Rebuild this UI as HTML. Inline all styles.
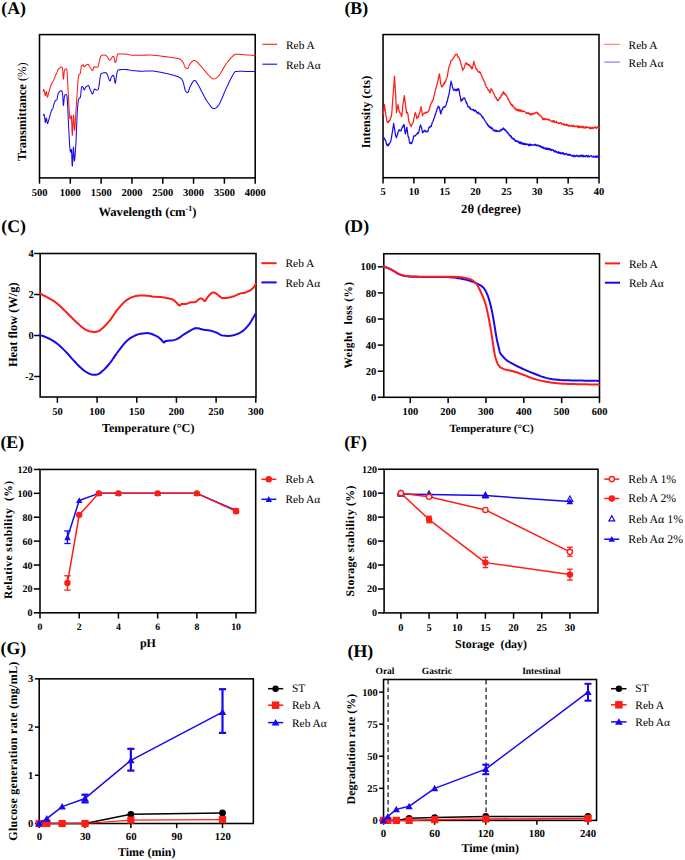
<!DOCTYPE html>
<html><head><meta charset="utf-8"><style>
html,body{margin:0;padding:0;background:#fff;}
body{width:685px;height:860px;overflow:hidden;}
svg{display:block;}
text{font-family:"Liberation Serif",serif;text-rendering:geometricPrecision;}
</style></head><body>
<svg width="685" height="860" viewBox="0 0 685 860">
<rect width="685" height="860" fill="#fff"/>
<text x="1.3" y="13.5" font-size="17.8" font-weight="bold" text-anchor="start" fill="#000" >(A)</text>
<text x="344.4" y="13.5" font-size="17.8" font-weight="bold" text-anchor="start" fill="#000" >(B)</text>
<text x="1.3" y="232.2" font-size="17.8" font-weight="bold" text-anchor="start" fill="#000" >(C)</text>
<text x="344.4" y="232" font-size="17.8" font-weight="bold" text-anchor="start" fill="#000" >(D)</text>
<text x="0.4" y="448.1" font-size="17.8" font-weight="bold" text-anchor="start" fill="#000" >(E)</text>
<text x="344.2" y="448" font-size="17.8" font-weight="bold" text-anchor="start" fill="#000" >(F)</text>
<text x="0.6" y="654.4" font-size="17.8" font-weight="bold" text-anchor="start" fill="#000" >(G)</text>
<text x="347.5" y="656.6" font-size="17.8" font-weight="bold" text-anchor="start" fill="#000" >(H)</text>
<rect x="39.5" y="34.6" width="215.7" height="143.3" fill="none" stroke="#000" stroke-width="1.55"/>
<line x1="39.5" y1="177.9" x2="39.5" y2="183.7" stroke="#000" stroke-width="1.5" />
<text x="39.5" y="196" font-size="10.5" font-weight="bold" text-anchor="middle" fill="#000" >500</text>
<line x1="70.31" y1="177.9" x2="70.31" y2="183.7" stroke="#000" stroke-width="1.5" />
<text x="70.31" y="196" font-size="10.5" font-weight="bold" text-anchor="middle" fill="#000" >1000</text>
<line x1="101.13" y1="177.9" x2="101.13" y2="183.7" stroke="#000" stroke-width="1.5" />
<text x="101.13" y="196" font-size="10.5" font-weight="bold" text-anchor="middle" fill="#000" >1500</text>
<line x1="131.94" y1="177.9" x2="131.94" y2="183.7" stroke="#000" stroke-width="1.5" />
<text x="131.94" y="196" font-size="10.5" font-weight="bold" text-anchor="middle" fill="#000" >2000</text>
<line x1="162.76" y1="177.9" x2="162.76" y2="183.7" stroke="#000" stroke-width="1.5" />
<text x="162.76" y="196" font-size="10.5" font-weight="bold" text-anchor="middle" fill="#000" >2500</text>
<line x1="193.57" y1="177.9" x2="193.57" y2="183.7" stroke="#000" stroke-width="1.5" />
<text x="193.57" y="196" font-size="10.5" font-weight="bold" text-anchor="middle" fill="#000" >3000</text>
<line x1="224.39" y1="177.9" x2="224.39" y2="183.7" stroke="#000" stroke-width="1.5" />
<text x="224.39" y="196" font-size="10.5" font-weight="bold" text-anchor="middle" fill="#000" >3500</text>
<line x1="255.2" y1="177.9" x2="255.2" y2="183.7" stroke="#000" stroke-width="1.5" />
<text x="255.2" y="196" font-size="10.5" font-weight="bold" text-anchor="middle" fill="#000" >4000</text>
<polyline points="43.2,91.3 43.28,90.96 43.4,90.44 43.53,89.89 43.67,89.46 43.8,89.3 43.92,89.46 44.03,89.82 44.14,90.34 44.26,90.96 44.4,91.6 44.56,92.44 44.73,93.5 44.91,94.56 45.1,95.38 45.3,95.7 45.51,95.25 45.73,94.18 45.96,92.94 46.18,91.93 46.4,91.6 46.61,92.24 46.81,93.56 47,95.13 47.2,96.49 47.4,97.2 47.59,97.16 47.78,96.65 47.96,95.85 48.17,94.92 48.4,94 48.67,93.05 48.98,91.94 49.3,90.79 49.62,89.68 49.9,88.7 50.14,87.88 50.35,87.14 50.55,86.47 50.76,85.83 51,85.2 51.28,84.57 51.59,83.97 51.9,83.39 52.21,82.83 52.5,82.3 52.75,81.84 52.97,81.44 53.19,81.05 53.43,80.59 53.7,80 54.02,79.23 54.38,78.32 54.76,77.34 55.14,76.38 55.5,75.5 55.86,74.7 56.23,73.93 56.59,73.2 56.92,72.52 57.2,71.9 57.38,71.36 57.47,70.9 57.55,70.48 57.7,70.06 58,69.6 58.52,69.03 59.2,68.36 59.94,67.72 60.64,67.23 61.2,67 61.59,66.97 61.88,67.08 62.1,67.39 62.3,68 62.5,69 62.7,70.81 62.88,73.38 63.05,76.06 63.22,78.21 63.4,79.2 63.59,78.62 63.77,76.9 63.96,74.65 64.17,72.45 64.4,70.9 64.67,70.04 64.98,69.47 65.3,69.14 65.62,69 65.9,69 66.14,68.93 66.36,68.82 66.57,68.99 66.78,69.78 67,71.5 67.23,74.41 67.47,78.28 67.71,82.76 67.95,87.45 68.2,92 68.46,96.75 68.73,101.94 69,107.06 69.26,111.58 69.5,115 69.7,117.11 69.88,118.25 70.05,118.72 70.22,118.84 70.4,118.9 70.6,118.45 70.8,117.28 71,116.08 71.2,115.53 71.4,116.3 71.58,119.38 71.76,124.32 71.93,129.63 72.11,133.85 72.3,135.5 72.51,133.37 72.72,128.44 72.94,122.52 73.17,117.44 73.4,115 73.63,116.34 73.87,120.24 74.11,125.01 74.35,128.96 74.6,130.4 74.85,128.77 75.11,125.21 75.38,120.54 75.64,115.59 75.9,111.2 76.16,107.3 76.42,103.34 76.68,99.41 76.94,95.6 77.2,92 77.45,88.49 77.69,85.01 77.94,81.74 78.2,78.88 78.5,76.6 78.86,75.14 79.27,74.36 79.69,73.94 80.08,73.53 80.4,72.8 80.63,71.61 80.8,70.19 80.93,68.74 81.06,67.44 81.2,66.5 81.36,66.01 81.51,65.84 81.66,65.84 81.82,65.88 82,65.8 82.2,65.55 82.42,65.23 82.65,64.92 82.88,64.72 83.1,64.7 83.32,64.99 83.53,65.52 83.74,66.13 83.96,66.64 84.2,66.9 84.44,66.83 84.68,66.55 84.94,66.15 85.24,65.73 85.6,65.4 86.07,65.11 86.63,64.79 87.21,64.5 87.76,64.32 88.2,64.3 88.51,64.48 88.73,64.83 88.9,65.27 89.08,65.75 89.3,66.2 89.57,66.62 89.86,67.06 90.16,67.51 90.47,67.96 90.8,68.4 91.15,68.92 91.52,69.52 91.89,70.08 92.26,70.45 92.6,70.5 92.9,70.08 93.16,69.28 93.42,68.33 93.69,67.46 94,66.9 94.34,66.74 94.71,66.83 95.09,67.03 95.49,67.23 95.9,67.3 96.34,67.28 96.81,67.25 97.28,67.16 97.73,66.93 98.1,66.5 98.39,65.82 98.6,64.92 98.79,63.9 98.98,62.83 99.2,61.8 99.45,60.75 99.72,59.62 100,58.5 100.29,57.5 100.6,56.7 100.92,56.15 101.23,55.77 101.57,55.52 101.96,55.35 102.4,55.2 102.94,55.08 103.57,55.02 104.23,55.02 104.86,55.08 105.4,55.2 105.83,55.38 106.19,55.61 106.51,55.9 106.83,56.26 107.2,56.7 107.63,57.31 108.09,58.09 108.56,58.89 109,59.57 109.4,60 109.72,60.14 109.98,60.08 110.22,59.87 110.48,59.56 110.8,59.2 111.21,58.69 111.68,58 112.16,57.27 112.62,56.66 113,56.3 113.29,56.2 113.52,56.26 113.71,56.48 113.9,56.86 114.1,57.4 114.32,58.28 114.54,59.5 114.76,60.79 114.98,61.88 115.2,62.5 115.42,62.58 115.64,62.32 115.86,61.79 116.08,61.09 116.3,60.3 116.52,59.28 116.74,57.98 116.96,56.6 117.18,55.37 117.4,54.5 117.52,54.07 117.54,53.93 117.61,53.97 117.88,54.07 118.5,54.1 119.58,54.06 121.03,54.02 122.66,54 124.31,54.02 125.8,54.1 127.06,54.27 128.21,54.51 129.34,54.79 130.57,55.03 132,55.2 133.64,55.27 135.41,55.28 137.31,55.25 139.32,55.22 141.4,55.2 143.56,55.17 145.81,55.11 148.16,55.07 150.62,55.08 153.2,55.2 156,55.44 159.01,55.79 162.08,56.19 165.07,56.61 167.8,57 170.34,57.34 172.8,57.66 175.08,57.99 177.11,58.36 178.8,58.8 180.07,59.3 180.98,59.83 181.65,60.42 182.21,61.11 182.8,61.9 183.38,62.92 183.86,64.15 184.3,65.42 184.73,66.56 185.2,67.4 185.73,67.96 186.29,68.34 186.85,68.54 187.39,68.53 187.9,68.3 188.34,67.76 188.72,66.91 189.1,65.9 189.51,64.88 190,64 190.59,63.2 191.26,62.39 191.96,61.65 192.69,61.06 193.4,60.7 194.05,60.54 194.65,60.52 195.28,60.7 196.04,61.14 197,61.9 198.26,63.14 199.78,64.81 201.39,66.69 202.95,68.53 204.3,70.1 205.41,71.39 206.38,72.56 207.26,73.62 208.11,74.59 209,75.5 209.9,76.42 210.77,77.33 211.64,78.12 212.55,78.68 213.5,78.9 214.49,78.8 215.5,78.47 216.56,77.85 217.68,76.91 218.9,75.6 220.24,73.73 221.68,71.32 223.19,68.68 224.71,66.07 226.2,63.8 227.72,61.8 229.29,59.89 230.84,58.14 232.27,56.65 233.5,55.5 234.4,54.78 235.04,54.43 235.6,54.32 236.26,54.32 237.2,54.3 238.46,54.29 239.91,54.37 241.51,54.5 243.22,54.66 245,54.8 247.05,54.94 249.4,55.1 251.74,55.26 253.77,55.4 255.2,55.5" fill="none" stroke="#ff1c14" stroke-width="1.05" stroke-linejoin="round" stroke-linecap="round" />
<polyline points="43.2,115.2 43.33,115.01 43.51,114.69 43.72,114.39 43.92,114.21 44.1,114.3 44.24,114.7 44.36,115.33 44.47,116.11 44.58,116.96 44.7,117.8 44.81,118.79 44.92,119.99 45.02,121.15 45.15,122.03 45.3,122.4 45.49,121.95 45.71,120.85 45.94,119.54 46.18,118.48 46.4,118.1 46.6,118.72 46.79,120.03 46.98,121.58 47.18,122.92 47.4,123.6 47.64,123.5 47.89,122.93 48.15,122.05 48.42,121.05 48.7,120.1 48.99,119.16 49.29,118.12 49.6,117.03 49.9,115.94 50.2,114.9 50.49,113.88 50.78,112.84 51.06,111.84 51.33,110.94 51.6,110.2 51.85,109.72 52.08,109.47 52.32,109.29 52.55,109.02 52.8,108.5 53.07,107.64 53.36,106.55 53.64,105.37 53.93,104.24 54.2,103.3 54.45,102.57 54.68,101.95 54.91,101.42 55.14,100.98 55.4,100.6 55.69,100.37 56.01,100.3 56.34,100.27 56.64,100.14 56.9,99.8 57.1,99.17 57.27,98.33 57.41,97.4 57.55,96.48 57.7,95.7 57.83,95.06 57.93,94.5 58.04,93.98 58.22,93.49 58.5,93 58.94,92.44 59.51,91.82 60.13,91.25 60.72,90.84 61.2,90.7 61.56,90.75 61.84,90.93 62.08,91.33 62.29,92.09 62.5,93.3 62.7,95.46 62.88,98.51 63.05,101.69 63.22,104.26 63.4,105.5 63.59,104.94 63.77,103.09 63.96,100.61 64.17,98.18 64.4,96.5 64.67,95.57 64.97,94.96 65.29,94.61 65.6,94.5 65.9,94.6 66.17,94.65 66.43,94.66 66.69,95.04 66.94,96.15 67.2,98.4 67.46,102.16 67.72,107.19 67.98,112.89 68.24,118.69 68.5,124 68.76,129.07 69.03,134.28 69.3,139.28 69.56,143.67 69.8,147.1 70.02,149.39 70.24,150.79 70.44,151.55 70.62,151.94 70.8,152.2 70.96,151.93 71.1,150.96 71.23,149.9 71.36,149.37 71.5,150 71.65,152.64 71.8,156.89 71.95,161.45 72.12,165.02 72.3,166.3 72.5,164.2 72.72,159.58 72.95,154.09 73.18,149.38 73.4,147.1 73.6,148.3 73.78,151.88 73.97,156.27 74.17,159.9 74.4,161.2 74.67,159.84 74.97,156.86 75.29,152.76 75.6,148.04 75.9,143.2 76.17,137.8 76.43,131.53 76.69,125.01 76.94,118.88 77.2,113.8 77.45,109.82 77.69,106.51 77.94,103.78 78.2,101.54 78.5,99.7 78.86,98.53 79.26,98.1 79.68,97.98 80.07,97.79 80.4,97.1 80.65,95.74 80.84,93.98 81,92.09 81.15,90.34 81.3,89 81.45,88.11 81.58,87.48 81.7,87.06 81.84,86.79 82,86.6 82.19,86.51 82.41,86.57 82.64,86.73 82.87,86.99 83.1,87.3 83.32,87.78 83.53,88.45 83.74,89.14 83.96,89.68 84.2,89.9 84.44,89.7 84.68,89.2 84.94,88.53 85.24,87.85 85.6,87.3 86.07,86.83 86.63,86.35 87.21,85.92 87.76,85.62 88.2,85.5 88.51,85.6 88.73,85.87 88.9,86.27 89.08,86.76 89.3,87.3 89.57,87.93 89.86,88.68 90.16,89.49 90.47,90.28 90.8,91 91.14,91.75 91.5,92.58 91.87,93.33 92.24,93.82 92.6,93.9 92.96,93.36 93.32,92.31 93.68,91.06 94.04,89.92 94.4,89.2 94.76,89.01 95.12,89.14 95.47,89.44 95.83,89.74 96.2,89.9 96.59,89.97 96.99,90.04 97.39,90.05 97.77,89.9 98.1,89.5 98.37,88.85 98.58,88.01 98.78,86.98 98.97,85.78 99.2,84.4 99.45,82.66 99.72,80.55 100,78.36 100.29,76.38 100.6,74.9 100.92,74.02 101.23,73.56 101.57,73.35 101.96,73.25 102.4,73.1 102.94,72.9 103.57,72.75 104.23,72.66 104.86,72.64 105.4,72.7 105.84,72.82 106.21,72.99 106.54,73.25 106.86,73.64 107.2,74.2 107.57,75.05 107.95,76.15 108.33,77.35 108.68,78.45 109,79.3 109.26,79.91 109.49,80.39 109.69,80.72 109.89,80.86 110.1,80.8 110.31,80.43 110.51,79.77 110.71,78.97 110.94,78.17 111.2,77.5 111.53,76.93 111.9,76.35 112.3,75.84 112.67,75.47 113,75.3 113.26,75.33 113.49,75.52 113.69,75.87 113.89,76.39 114.1,77.1 114.32,78.26 114.54,79.86 114.76,81.5 114.98,82.78 115.2,83.3 115.42,82.85 115.64,81.69 115.86,80.15 116.08,78.51 116.3,77.1 116.51,75.85 116.71,74.54 116.91,73.29 117.14,72.18 117.4,71.3 117.64,70.71 117.84,70.33 118.1,70.11 118.52,69.95 119.2,69.8 120.22,69.64 121.51,69.53 122.96,69.47 124.43,69.46 125.8,69.5 127.01,69.62 128.16,69.82 129.31,70.06 130.56,70.3 132,70.5 133.64,70.67 135.41,70.84 137.31,70.99 139.32,71.12 141.4,71.2 143.56,71.19 145.81,71.08 148.16,70.98 150.62,70.95 153.2,71.1 156,71.45 159.01,71.95 162.08,72.54 165.07,73.18 167.8,73.8 170.34,74.41 172.8,75.04 175.08,75.7 177.11,76.39 178.8,77.1 180.07,77.77 180.98,78.4 181.65,79.1 182.21,79.96 182.8,81.1 183.38,82.7 183.86,84.7 184.3,86.81 184.73,88.74 185.2,90.2 185.73,91.2 186.29,91.94 186.85,92.4 187.39,92.56 187.9,92.4 188.33,91.82 188.7,90.83 189.07,89.59 189.48,88.26 190,87 190.66,85.66 191.43,84.14 192.24,82.65 193.05,81.43 193.8,80.7 194.41,80.41 194.93,80.42 195.45,80.78 196.11,81.59 197,82.9 198.24,85 199.75,87.85 201.37,91.02 202.94,94.08 204.3,96.6 205.41,98.53 206.38,100.15 207.26,101.55 208.11,102.81 209,104 209.9,105.22 210.77,106.4 211.64,107.43 212.55,108.17 213.5,108.5 214.49,108.49 215.5,108.22 216.56,107.59 217.68,106.48 218.9,104.8 220.24,102.3 221.68,99.07 223.19,95.44 224.71,91.77 226.2,88.4 227.72,85.17 229.29,81.84 230.84,78.68 232.27,75.91 233.5,73.8 234.4,72.5 235.04,71.85 235.6,71.6 236.26,71.53 237.2,71.4 238.46,71.24 239.91,71.22 241.51,71.27 243.22,71.35 245,71.4 247.05,71.43 249.4,71.48 251.74,71.52 253.77,71.57 255.2,71.6" fill="none" stroke="#1808f2" stroke-width="1.05" stroke-linejoin="round" stroke-linecap="round" />
<line x1="262.4" y1="44.3" x2="277.2" y2="44.3" stroke="#ff1c14" stroke-width="1.1" />
<line x1="262.4" y1="64.2" x2="277.2" y2="64.2" stroke="#1808f2" stroke-width="1.1" />
<text x="286" y="48.6" font-size="11.4" font-weight="normal" text-anchor="start" fill="#000" >Reb A</text>
<text x="286" y="68.6" font-size="11.4" font-weight="normal" text-anchor="start" fill="#000" >Reb Aα</text>
<text x="25.6" y="161" font-size="12.4" font-weight="bold" transform="rotate(-90 25.6 161)">Transmittance <tspan font-weight="normal">(%)</tspan></text>
<text x="147.4" y="216.2" font-size="12.6" font-weight="bold" text-anchor="middle">Wavelength (cm<tspan font-size="8" dy="-5">-1</tspan><tspan dy="5">)</tspan></text>
<rect x="383.05" y="34.55" width="215.95" height="143.15" fill="none" stroke="#000" stroke-width="1.55"/>
<line x1="383.05" y1="177.7" x2="383.05" y2="183.5" stroke="#000" stroke-width="1.5" />
<text x="383.05" y="195" font-size="10.5" font-weight="bold" text-anchor="middle" fill="#000" >5</text>
<line x1="413.9" y1="177.7" x2="413.9" y2="183.5" stroke="#000" stroke-width="1.5" />
<text x="413.9" y="195" font-size="10.5" font-weight="bold" text-anchor="middle" fill="#000" >10</text>
<line x1="444.75" y1="177.7" x2="444.75" y2="183.5" stroke="#000" stroke-width="1.5" />
<text x="444.75" y="195" font-size="10.5" font-weight="bold" text-anchor="middle" fill="#000" >15</text>
<line x1="475.6" y1="177.7" x2="475.6" y2="183.5" stroke="#000" stroke-width="1.5" />
<text x="475.6" y="195" font-size="10.5" font-weight="bold" text-anchor="middle" fill="#000" >20</text>
<line x1="506.45" y1="177.7" x2="506.45" y2="183.5" stroke="#000" stroke-width="1.5" />
<text x="506.45" y="195" font-size="10.5" font-weight="bold" text-anchor="middle" fill="#000" >25</text>
<line x1="537.3" y1="177.7" x2="537.3" y2="183.5" stroke="#000" stroke-width="1.5" />
<text x="537.3" y="195" font-size="10.5" font-weight="bold" text-anchor="middle" fill="#000" >30</text>
<line x1="568.15" y1="177.7" x2="568.15" y2="183.5" stroke="#000" stroke-width="1.5" />
<text x="568.15" y="195" font-size="10.5" font-weight="bold" text-anchor="middle" fill="#000" >35</text>
<line x1="599" y1="177.7" x2="599" y2="183.5" stroke="#000" stroke-width="1.5" />
<text x="599" y="195" font-size="10.5" font-weight="bold" text-anchor="middle" fill="#000" >40</text>
<polyline points="383.2,114.78 383.63,111.27 384.07,108.97 384.5,104.73 384.87,108.23 385.23,110.59 385.6,112.7 386,115.91 386.4,117.47 386.8,120.58 387.2,122.33 387.6,121.96 388,122.16 388.4,122.49 388.8,120.82 389.2,120.6 389.6,120.93 390,120.39 390.4,118.6 390.8,117.15 391.2,117.08 391.6,114.28 392,110.47 392.4,104.17 392.8,98.63 393.2,93.31 393.63,87.86 394.07,82.97 394.5,76.03 394.87,82.55 395.23,88.45 395.6,93.77 396.05,103.84 396.5,112.71 396.88,110.51 397.25,108.57 397.62,107.22 398,104.57 398.43,106.77 398.87,109.65 399.3,111.82 399.73,112.07 400.17,113.5 400.6,113.86 400.97,114.11 401.33,115.77 401.7,116.75 402.13,113.11 402.57,108.58 403,103.52 403.47,102.06 403.93,97.81 404.4,95.65 404.83,100.03 405.27,102.71 405.7,107.08 406.1,109.07 406.5,113 406.87,112.91 407.23,112.3 407.6,112.58 408.03,114.76 408.47,118.65 408.9,121.67 409.3,122.46 409.7,123.05 410.1,124.56 410.5,125.57 410.9,125.54 411.3,126.7 411.7,124.53 412.1,124.6 412.5,123.41 412.9,122.95 413.3,121.56 413.7,119.51 414.1,117.89 414.5,116.6 414.9,113.64 415.3,112.63 415.7,113.5 416.1,114.81 416.5,116.11 416.9,118.78 417.3,117.23 417.7,117.05 418.1,116.9 418.5,117.37 418.86,114.57 419.21,113.87 419.57,112.67 419.93,111.9 420.29,110.42 420.64,109.13 421,106.7 421.4,108.95 421.8,110.85 422.2,113.79 422.6,115.92 423,114.07 423.4,113.72 423.8,113.42 424.2,113.02 424.6,113.34 425,113.39 425.4,112.67 425.8,112.07 426.2,112.69 426.6,112.46 427,112.42 427.4,112.72 427.8,111.84 428.2,111.13 428.6,110.91 429,110.62 429.4,107.9 429.8,107.82 430.2,106 430.6,104.57 431,103.9 431.4,102.64 431.8,102.12 432.2,101.05 432.6,101.48 433,99.91 433.4,98.3 433.8,96.94 434.2,95.24 434.6,93.95 435,91.81 435.4,90.1 435.8,88.77 436.2,87.08 436.6,85.95 437,83.75 437.4,83.67 437.8,81.61 438.2,78.97 438.6,77.35 439,75.73 439.4,73.96 439.83,76.45 440.27,80.69 440.7,83.89 441.07,84.54 441.43,86.17 441.8,87.05 442.2,86.28 442.6,85.92 443,84.98 443.4,85.19 443.8,83.46 444.2,82.67 444.6,83.81 445,82.52 445.4,81.3 445.8,81.48 446.2,78.95 446.6,78.25 447,77.46 447.4,75.65 447.82,73.33 448.25,70.52 448.68,68.69 449.1,66.3 449.5,66.19 449.9,64.56 450.3,63.8 450.7,61.79 451.1,60.4 451.5,60.26 451.9,60.17 452.3,59.53 452.7,59.05 453.1,58.67 453.5,58.13 453.9,56.81 454.26,56.89 454.62,56.17 454.99,55.14 455.35,54.7 455.71,54.72 456.07,54.24 456.44,54.58 456.8,54.62 457.18,54.41 457.56,55.99 457.94,56.78 458.32,57.42 458.7,57.06 459.1,57.86 459.5,58.94 459.9,59.95 460.3,61.03 460.7,62.86 461.1,64.42 461.5,65.91 461.9,66.86 462.3,68.78 462.7,70.64 463.1,68.55 463.5,68.79 463.9,68.44 464.3,67.41 464.7,66.35 465.1,64.86 465.5,63.32 465.9,63.42 466.3,62.87 466.7,63.97 467.1,64.55 467.5,63.78 467.9,64.06 468.3,65.3 468.7,65.3 469.1,64.71 469.5,65.03 469.9,65.47 470.3,67.23 470.7,67.45 471.1,66.66 471.5,68.29 471.9,68.96 472.3,68.78 472.7,66.63 473.1,65.39 473.5,63.04 473.9,61.23 474.3,64.15 474.7,64.77 475.1,65.75 475.5,67.68 475.86,67.48 476.21,68.97 476.57,69.59 476.93,69.18 477.29,69.95 477.64,70.73 478,71.33 478.4,72.09 478.8,71.63 479.2,72.05 479.6,71.67 480,73.2 480.4,72.34 480.8,73.46 481.2,74.62 481.6,76.13 482,76.19 482.4,78.02 482.8,78.2 483.16,79.15 483.51,80.02 483.87,80 484.22,81.65 484.58,82.07 484.93,82.64 485.29,84.96 485.64,84.72 486,86.15 486.36,87.19 486.73,87.47 487.09,87.63 487.45,88.56 487.82,89.21 488.18,90.2 488.55,89.56 488.91,90.96 489.27,90.98 489.64,91.62 490,93.09 490.37,91.08 490.73,89.64 491.1,88.47 491.48,89.52 491.86,89.45 492.23,90.54 492.61,91.12 492.99,91.91 493.37,93.01 493.74,93.36 494.12,94.28 494.5,94.96 494.86,96.41 495.22,96.6 495.58,97.54 495.94,98.28 496.3,97.67 496.66,98.83 497.02,100.14 497.38,100.57 497.74,99.93 498.1,100.52 498.5,100.4 498.9,99.03 499.3,98.63 499.7,97.63 500.1,98.01 500.5,97.51 500.86,97.1 501.23,95.15 501.59,95.55 501.95,94.84 502.31,93.29 502.67,94.01 503.04,93.55 503.4,91.6 503.77,93.33 504.14,92.75 504.51,93.32 504.89,94.64 505.26,94.77 505.63,93.98 506,94.88 506.35,95.73 506.7,96.11 507.05,96.55 507.4,97.47 507.75,98.9 508.1,98.34 508.45,100 508.8,100.49 509.15,100.43 509.5,101.7 509.85,102.66 510.2,102.9 510.55,102.54 510.9,104.63 511.25,104.72 511.6,105.49 511.95,104.37 512.3,105.1 512.65,105.13 513,106.9 513.35,106.34 513.7,106.43 514.05,107.31 514.4,108.54 514.75,108.72 515.1,108.07 515.45,108.22 515.8,109.95 516.15,109.68 516.5,110.26 516.85,109.22 517.21,109.22 517.56,110.42 517.91,110.01 518.27,109.43 518.62,111.05 518.97,110.56 519.33,110.92 519.68,109.69 520.03,111.14 520.39,109.78 520.74,111.27 521.09,110.6 521.45,110.45 521.8,110.9 522.17,111.75 522.54,110.75 522.91,110.69 523.29,111.59 523.66,111.26 524.03,111.21 524.4,111.49 524.77,111.48 525.14,111.93 525.51,112.32 525.89,112.49 526.26,113.5 526.63,112.84 527,113.4 527.36,112.9 527.73,113.29 528.09,112.78 528.45,113.28 528.82,112.94 529.18,114.31 529.55,114.06 529.91,113.5 530.27,114.09 530.64,115 531,113.59 531.37,114.74 531.74,113.92 532.11,113.9 532.48,114.38 532.85,113.45 533.22,113.53 533.58,113.72 533.95,114.12 534.32,112.84 534.69,113.59 535.06,113.23 535.43,112.98 535.8,112.43 536.16,112.51 536.51,112.18 536.87,112.5 537.22,112.58 537.58,113.98 537.93,113.29 538.29,113.32 538.64,113.36 539,114.91 539.38,115.41 539.76,115.49 540.14,115.23 540.52,115.6 540.9,116.13 541.28,116.87 541.66,116.76 542.04,117.72 542.42,117.83 542.8,119.53 543.15,119.64 543.5,118.95 543.85,118.5 544.2,119.88 544.55,118.78 544.9,118.95 545.25,118.4 545.6,119.17 545.95,119.42 546.3,119.55 546.65,119.1 547,119.73 547.35,118.91 547.7,119.47 548.05,119.24 548.4,119.88 548.75,119.32 549.1,119.37 549.45,119.96 549.8,119.92 550.15,120.64 550.5,120.63 550.85,121.12 551.2,121.04 551.55,121.24 551.9,121.62 552.25,120.83 552.6,120.81 552.95,122.08 553.3,120.67 553.65,121.79 554,121.74 554.35,120.75 554.7,122.26 555.05,122.46 555.4,122.07 555.75,122.35 556.1,122.58 556.45,121.46 556.8,122.24 557.15,122.32 557.5,123.03 557.85,123.09 558.2,123.25 558.55,122.93 558.9,123.6 559.25,123.33 559.6,123.47 559.95,122.75 560.3,122.51 560.65,122.8 561,123.33 561.35,122.98 561.7,124.41 562.05,124.03 562.4,124.27 562.75,124.38 563.1,124.6 563.45,124.37 563.8,123.61 564.15,125.1 564.5,125.08 564.86,124.71 565.21,124.84 565.56,125.13 565.91,124.13 566.26,125.4 566.62,124.6 566.97,124.35 567.32,124.76 567.67,125.66 568.02,124.79 568.38,125.82 568.73,126.31 569.08,125.51 569.43,125.38 569.78,125.62 570.14,126.05 570.49,126.27 570.84,126.07 571.19,126.18 571.54,125.24 571.9,125.43 572.25,125.69 572.6,126.64 572.95,125.88 573.3,126.38 573.66,125.41 574.01,125.52 574.36,125.92 574.71,126.68 575.06,126.74 575.42,126.74 575.77,126.08 576.12,126.51 576.47,126.44 576.82,126.48 577.18,125.88 577.53,127.3 577.88,126.08 578.23,127.51 578.58,127.46 578.94,125.84 579.29,126.66 579.64,127.34 579.99,127.63 580.34,126.73 580.7,126.43 581.05,126.35 581.4,127.7 581.76,126.43 582.12,127.14 582.49,126.39 582.85,127.13 583.21,127.94 583.58,126.51 583.94,127.8 584.3,127.28 584.66,128.01 585.02,127.72 585.39,126.92 585.75,128.17 586.11,127.47 586.48,126.69 586.84,126.69 587.2,127.62 587.56,127.59 587.92,127.37 588.29,127.12 588.65,127.54 589.01,127.53 589.38,128.52 589.74,127.06 590.1,128.45 590.45,128.59 590.8,127.27 591.16,128.7 591.51,128.29 591.86,128.6 592.21,127.48 592.56,127.6 592.92,127.62 593.27,128.68 593.62,127.92 593.97,127.49 594.32,127.58 594.68,127.28 595.03,126.85 595.38,126.92 595.73,128.22 596.08,127.21 596.44,128.35 596.79,127.09 597.14,127.1 597.49,127.52 597.84,126.91 598.2,127.22 598.55,128.25 598.9,127.4" fill="none" stroke="#ff1c14" stroke-width="1.25" stroke-linejoin="round" stroke-linecap="round" />
<polyline points="383.2,136.69 383.56,137.2 383.92,137.52 384.28,138.66 384.64,139.35 385,139.29 385.37,140.66 385.73,140.52 386.1,142.82 386.47,143.38 386.83,144.99 387.2,145.86 387.6,144.95 388,144.25 388.4,145.57 388.8,143.86 389.2,144.22 389.6,143.72 390,142.44 390.4,142.03 390.8,141.26 391.2,138.77 391.56,137.31 391.91,134.5 392.27,132.79 392.63,130.32 392.99,127.74 393.34,125.56 393.7,123.47 394.07,126.98 394.45,128.49 394.82,130.25 395.2,133.73 395.6,135.69 396,136.51 396.4,137.75 396.8,136.5 397.2,134.96 397.6,134.07 398,132.26 398.43,131.4 398.87,130.3 399.3,129.73 399.7,130.65 400.1,130.75 400.5,130.49 400.9,130.84 401.3,130.09 401.7,128.88 402.1,127.86 402.5,126.41 402.9,126.17 403.3,126.79 403.7,124.65 404.1,124.71 404.53,128.17 404.97,131.82 405.4,133.89 405.77,132.19 406.15,130.35 406.52,128.82 406.9,127.1 407.3,130.95 407.7,133.69 408.1,136.67 408.5,136.74 408.9,138.36 409.3,141.18 409.7,143.11 410.1,142.75 410.5,143.36 410.9,142.7 411.3,143.8 411.7,143.57 412.1,142.19 412.5,141.04 412.9,140.05 413.3,137.55 413.7,136.1 414.1,135.78 414.5,136.04 414.9,135.93 415.3,135.99 415.7,135.2 416.1,134.67 416.5,134.61 416.9,133.79 417.3,133.69 417.7,132.5 418.1,133.57 418.5,132.32 418.85,132.21 419.2,130.36 419.55,128.4 419.9,126.73 420.25,125.6 420.6,124.95 421,126.68 421.4,127.24 421.8,128.79 422.2,131.22 422.6,132.95 423,132.2 423.4,131.5 423.8,131.78 424.2,130.32 424.6,130.44 425,130.33 425.4,131.49 425.8,131.19 426.2,131.89 426.6,131.42 427,131.26 427.4,131.54 427.8,131.83 428.2,130.37 428.6,128.65 429,127.14 429.4,127.6 429.8,127.51 430.2,126.66 430.6,125.96 431,126.3 431.4,126.37 431.8,124.02 432.2,122.59 432.6,122.06 433,121.12 433.4,120.51 433.8,118.56 434.2,118.43 434.6,117.13 435,115.51 435.4,113.77 435.8,113.95 436.2,111.56 436.6,111.41 437,109.28 437.4,108.2 437.8,108.1 438.2,106.2 438.6,106.31 439.02,107.09 439.44,108.14 439.86,109.8 440.28,111.75 440.7,113.8 441.08,113.35 441.46,110.94 441.84,110.43 442.22,109.14 442.6,109.55 443,107.66 443.4,107.09 443.8,106.71 444.2,106.91 444.6,107.42 445,106.99 445.4,105.92 445.8,105.6 446.2,104.68 446.6,102.79 446.96,101.26 447.31,101.34 447.67,99.73 448.03,97.17 448.39,97.04 448.74,95.25 449.1,93.97 449.5,91.34 449.9,88.48 450.3,85.63 450.7,83.56 451.1,81.13 451.5,83.82 451.9,83.92 452.3,87.04 452.7,87.27 453.1,89.14 453.5,90.11 453.9,90.25 454.3,89.68 454.7,89.12 455.1,90.02 455.5,89.97 455.86,90.87 456.21,89.47 456.57,89.69 456.92,90.56 457.28,88.91 457.63,89.51 457.99,90.14 458.34,89.97 458.7,88.57 459.1,90.45 459.5,92.38 459.9,95.81 460.3,96.5 460.7,99.26 461.1,101.42 461.5,100.01 461.9,99.49 462.3,100.32 462.7,99.31 463.1,98.27 463.5,98.69 463.9,98.14 464.3,98.25 464.7,97.93 465.1,99.46 465.5,100.83 465.9,101.41 466.3,103.05 466.7,102.48 467.1,103.94 467.5,105.46 467.86,106.68 468.21,107.03 468.57,106.36 468.92,106.47 469.28,107.15 469.63,107.62 469.99,108.76 470.34,107.77 470.7,109.24 471.06,109.31 471.41,109.64 471.77,109.72 472.12,109.6 472.48,109.28 472.83,109.44 473.19,109.7 473.54,110.63 473.9,109.54 474.27,109.97 474.65,111.19 475.02,110.5 475.39,110.39 475.76,110.55 476.14,111.7 476.51,111.51 476.88,112.91 477.25,112.95 477.63,113.36 478,112.28 478.36,112.22 478.71,112.51 479.07,113.5 479.42,114.14 479.78,113.94 480.13,113.82 480.49,114.42 480.84,115.05 481.2,115.41 481.56,116.04 481.91,116.7 482.27,116.86 482.62,116.37 482.98,118.16 483.33,117.66 483.69,118.64 484.04,118.78 484.4,119.93 485,120.76 485.35,121.29 485.7,121.72 486.05,122 486.4,123.75 486.75,123.64 487.1,123.63 487.45,124.19 487.8,125.71 488.15,125.27 488.5,125.22 488.85,126.55 489.21,126.56 489.56,127.46 489.91,126.16 490.27,127.12 490.62,128.03 490.97,128.37 491.33,128.79 491.68,127.51 492.03,128.26 492.39,128.24 492.74,128.66 493.09,130.36 493.45,129.96 493.8,130.87 494.17,129.99 494.54,131 494.91,130.37 495.29,130.15 495.66,131.21 496.03,131.63 496.4,130.24 496.77,131.24 497.14,131.41 497.51,130.81 497.89,131.2 498.26,130.91 498.63,131.15 499,131.36 499.37,131.72 499.73,131.56 500.1,130.49 500.47,129.89 500.83,130.2 501.2,130.57 501.57,129.42 501.93,129.4 502.3,128.94 502.67,129.75 503.03,129.04 503.4,127.91 503.75,128.29 504.1,129.13 504.45,129.72 504.8,130.19 505.15,129.51 505.5,129.95 505.85,131.22 506.2,131.02 506.55,131.1 506.9,131.45 507.27,133.06 507.63,132.35 508,133.24 508.37,133.31 508.73,133.86 509.1,135.11 509.47,135.79 509.83,135.09 510.2,135.23 510.57,136.63 510.93,136.12 511.3,136.21 511.67,138.14 512.03,137.6 512.4,138.63 512.77,138.2 513.13,139.37 513.5,138.93 513.87,138.71 514.23,138.76 514.6,140.04 514.97,140.52 515.33,141.32 515.7,140.16 516.06,141.26 516.42,140.94 516.78,141.31 517.14,140.8 517.49,141.19 517.85,141.75 518.21,142.61 518.57,141.28 518.93,142.1 519.29,142.8 519.65,143.23 520.01,141.98 520.36,141.99 520.72,143.59 521.08,143.79 521.44,143.03 521.8,142.4 522.15,144.06 522.5,143.18 522.85,144.2 523.2,143.78 523.55,144.23 523.9,143.13 524.25,144.34 524.6,143.42 524.95,143.84 525.3,144.72 525.65,144.78 526,143.71 526.35,143.86 526.7,144.28 527.05,144.58 527.4,144.43 527.75,144.05 528.1,144.36 528.45,145.31 528.8,145.72 529.15,144.17 529.5,145.11 529.85,145.46 530.2,144.17 530.55,145.61 530.9,144.31 531.25,145.18 531.6,145.09 531.95,145.23 532.3,144.65 532.65,144.86 533,145.15 533.35,144.87 533.7,145.29 534.05,144.9 534.4,144.89 534.75,144.14 535.1,145.21 535.45,144.98 535.8,144.52 536.15,145.6 536.5,145.76 536.85,145.31 537.2,144.94 537.55,145.6 537.9,145.07 538.25,145.24 538.6,145.92 538.95,145.44 539.3,146.2 539.65,146.45 540,145.73 540.35,146.94 540.7,146.07 541.05,147.37 541.4,147.58 541.75,147.23 542.1,146.54 542.45,147.48 542.8,147.38 543.15,148.5 543.5,147.12 543.85,148.5 544.2,148.83 544.55,148.44 544.9,148.68 545.25,147.64 545.6,149.15 545.95,148.35 546.3,149.27 546.65,149.28 547,148.02 547.35,149.22 547.7,149.57 548.05,148.09 548.4,148.69 548.75,149.51 549.1,148.52 549.45,149.93 549.8,148.89 550.15,150 550.5,148.93 550.85,149.71 551.2,150.6 551.55,149.45 551.9,149.68 552.25,150.26 552.6,150.05 552.95,149.68 553.3,150.08 553.65,150.18 554,151.71 554.35,151.38 554.7,151.9 555.05,150.73 555.4,151.97 555.75,150.9 556.1,151.79 556.45,152.11 556.8,151.75 557.15,152.76 557.5,152.27 557.85,152.4 558.2,153.03 558.55,151.71 558.9,153.4 559.25,152.83 559.6,152.49 559.95,153.3 560.3,152.43 560.65,153.82 561,153.16 561.35,152.85 561.7,153.67 562.05,153.17 562.4,152.78 562.75,153.88 563.1,152.72 563.45,154.19 563.8,153.26 564.15,154.04 564.5,154.76 564.86,154.13 565.21,154.36 565.56,153.82 565.91,153.36 566.26,153.5 566.62,153.8 566.97,154.74 567.32,154.5 567.67,154.73 568.02,155.52 568.38,154.23 568.73,154.5 569.08,155.36 569.43,154.31 569.78,154.37 570.14,155.09 570.49,154.74 570.84,155.28 571.19,155.14 571.54,155.87 571.9,155.98 572.25,155.38 572.6,156.22 572.95,155.95 573.3,155.34 573.66,156.79 574.01,155.54 574.36,155.37 574.71,155.27 575.06,156.25 575.42,156.67 575.77,156.51 576.12,155.82 576.47,155.58 576.82,155.12 577.18,156.26 577.53,156.11 577.88,155.73 578.23,156.26 578.58,155.9 578.94,156.79 579.29,156.42 579.64,155.55 579.99,156.73 580.34,155.18 580.7,156.06 581.05,155.83 581.4,155.53 581.76,155.22 582.12,156.54 582.49,155.17 582.85,156.16 583.21,156.88 583.58,155.46 583.94,155.58 584.3,156.33 584.66,156.16 585.02,156.42 585.39,156.75 585.75,155.61 586.11,155.87 586.48,155.87 586.84,155.44 587.2,156.97 587.56,156.79 587.92,156.69 588.29,155.43 588.65,156.95 589.01,156.79 589.38,156.3 589.74,156.82 590.1,156.31 590.45,155.92 590.8,155.71 591.16,155.95 591.51,155.62 591.86,156.16 592.21,156.92 592.56,156.84 592.92,157.12 593.27,156.89 593.62,156.1 593.97,156.63 594.32,156.43 594.68,157.08 595.03,156.61 595.38,156.16 595.73,156.85 596.08,157.44 596.44,156.11 596.79,157.31 597.14,155.77 597.49,156.22 597.84,156.19 598.2,157.11 598.55,157.49 598.9,156.7" fill="none" stroke="#1808f2" stroke-width="1.25" stroke-linejoin="round" stroke-linecap="round" />
<line x1="604.3" y1="44.3" x2="619.9" y2="44.3" stroke="#ff6666" stroke-width="1.0" />
<line x1="604.3" y1="62.1" x2="619.9" y2="62.1" stroke="#6666ff" stroke-width="1.0" />
<text x="628.6" y="48.7" font-size="11.4" font-weight="normal" text-anchor="start" fill="#000" >Reb A</text>
<text x="628.6" y="66.6" font-size="11.4" font-weight="normal" text-anchor="start" fill="#000" >Reb Aα</text>
<text x="369.9" y="112" font-size="12.3" font-weight="bold" text-anchor="middle" textLength="72.5" lengthAdjust="spacing" transform="rotate(-90 369.9 112)">Intensity (cts)</text>
<text x="491" y="213.3" font-size="12.6" font-weight="bold" text-anchor="middle" fill="#000" >2θ (degree)</text>
<rect x="40.15" y="253.5" width="215.85" height="143.5" fill="none" stroke="#000" stroke-width="1.55"/>
<line x1="34.15" y1="253.5" x2="40.15" y2="253.5" stroke="#000" stroke-width="1.5" />
<text x="33.75" y="257.1" font-size="10.5" font-weight="bold" text-anchor="end" fill="#000" >4</text>
<line x1="34.15" y1="294.5" x2="40.15" y2="294.5" stroke="#000" stroke-width="1.5" />
<text x="33.75" y="298.1" font-size="10.5" font-weight="bold" text-anchor="end" fill="#000" >2</text>
<line x1="34.15" y1="335.5" x2="40.15" y2="335.5" stroke="#000" stroke-width="1.5" />
<text x="33.75" y="339.1" font-size="10.5" font-weight="bold" text-anchor="end" fill="#000" >0</text>
<line x1="34.15" y1="376.5" x2="40.15" y2="376.5" stroke="#000" stroke-width="1.5" />
<text x="33.75" y="380.1" font-size="10.5" font-weight="bold" text-anchor="end" fill="#000" >-2</text>
<line x1="57.4" y1="397" x2="57.4" y2="402.8" stroke="#000" stroke-width="1.5" />
<text x="57.4" y="414.5" font-size="10.5" font-weight="bold" text-anchor="middle" fill="#000" >50</text>
<line x1="97.08" y1="397" x2="97.08" y2="402.8" stroke="#000" stroke-width="1.5" />
<text x="97.08" y="414.5" font-size="10.5" font-weight="bold" text-anchor="middle" fill="#000" >100</text>
<line x1="136.76" y1="397" x2="136.76" y2="402.8" stroke="#000" stroke-width="1.5" />
<text x="136.76" y="414.5" font-size="10.5" font-weight="bold" text-anchor="middle" fill="#000" >150</text>
<line x1="176.44" y1="397" x2="176.44" y2="402.8" stroke="#000" stroke-width="1.5" />
<text x="176.44" y="414.5" font-size="10.5" font-weight="bold" text-anchor="middle" fill="#000" >200</text>
<line x1="216.12" y1="397" x2="216.12" y2="402.8" stroke="#000" stroke-width="1.5" />
<text x="216.12" y="414.5" font-size="10.5" font-weight="bold" text-anchor="middle" fill="#000" >250</text>
<line x1="255.8" y1="397" x2="255.8" y2="402.8" stroke="#000" stroke-width="1.5" />
<text x="255.8" y="414.5" font-size="10.5" font-weight="bold" text-anchor="middle" fill="#000" >300</text>
<polyline points="40.1,293.6 40.82,293.97 41.79,294.47 42.94,295.07 44.23,295.74 45.57,296.46 46.9,297.2 48.26,297.95 49.71,298.74 51.22,299.57 52.76,300.46 54.29,301.43 55.8,302.5 57.28,303.68 58.77,304.96 60.25,306.33 61.73,307.74 63.22,309.17 64.7,310.6 66.18,312.05 67.67,313.54 69.15,315.06 70.63,316.57 72.12,318.06 73.6,319.5 75.12,320.94 76.69,322.41 78.26,323.85 79.79,325.21 81.21,326.45 82.5,327.5 83.64,328.35 84.66,329.04 85.59,329.6 86.45,330.06 87.24,330.45 88,330.8 88.69,331.08 89.28,331.27 89.82,331.39 90.33,331.46 90.85,331.52 91.4,331.6 91.97,331.7 92.52,331.81 93.08,331.91 93.67,331.97 94.3,331.98 95,331.9 95.74,331.8 96.51,331.72 97.32,331.57 98.2,331.3 99.19,330.84 100.3,330.1 101.57,329.07 103,327.79 104.52,326.31 106.1,324.69 107.67,322.97 109.2,321.2 110.68,319.3 112.17,317.2 113.65,315 115.13,312.8 116.62,310.7 118.1,308.8 119.58,307.06 121.06,305.39 122.54,303.82 124.03,302.37 125.51,301.05 127,299.9 128.5,298.92 130,298.1 131.5,297.42 133,296.86 134.5,296.39 136,296 137.49,295.71 138.97,295.55 140.46,295.49 141.94,295.49 143.42,295.54 144.9,295.6 146.41,295.7 147.95,295.88 149.49,296.1 151,296.33 152.44,296.54 153.8,296.7 155,296.79 156.06,296.83 157.06,296.86 158.07,296.89 159.19,296.96 160.5,297.1 162.09,297.31 163.91,297.57 165.84,297.86 167.74,298.19 169.47,298.54 170.9,298.9 171.99,299.27 172.83,299.66 173.5,300.06 174.09,300.5 174.66,300.98 175.3,301.5 176.01,302.15 176.73,302.93 177.44,303.75 178.12,304.51 178.75,305.13 179.3,305.5 179.72,305.57 180.03,305.39 180.28,305.07 180.54,304.69 180.89,304.33 181.4,304.1 182.11,304 182.97,303.96 183.91,303.95 184.88,303.94 185.8,303.9 186.6,303.8 187.26,303.62 187.83,303.38 188.34,303.11 188.86,302.83 189.43,302.59 190.1,302.4 190.9,302.3 191.8,302.28 192.75,302.29 193.7,302.27 194.6,302.19 195.4,302 196.1,301.65 196.73,301.17 197.32,300.62 197.87,300.07 198.39,299.57 198.9,299.2 199.39,298.94 199.86,298.73 200.29,298.58 200.71,298.49 201.11,298.47 201.5,298.5 201.87,298.63 202.23,298.86 202.57,299.14 202.89,299.46 203.2,299.75 203.5,300 203.77,300.25 204,300.55 204.21,300.84 204.44,301.05 204.69,301.12 205,301 205.35,300.64 205.72,300.08 206.12,299.38 206.56,298.61 207.05,297.83 207.6,297.1 208.24,296.35 208.97,295.53 209.75,294.69 210.54,293.91 211.3,293.26 212,292.8 212.62,292.56 213.2,292.47 213.76,292.52 214.3,292.66 214.84,292.86 215.4,293.1 215.98,293.4 216.56,293.81 217.14,294.28 217.73,294.77 218.32,295.26 218.9,295.7 219.45,296.13 219.97,296.59 220.49,297.04 221.04,297.44 221.67,297.78 222.4,298 223.28,298.1 224.27,298.1 225.34,298.03 226.43,297.91 227.5,297.76 228.5,297.6 229.42,297.44 230.3,297.25 231.15,297.04 232,296.79 232.88,296.51 233.8,296.2 234.78,295.82 235.81,295.36 236.86,294.88 237.9,294.39 238.93,293.95 239.9,293.6 240.82,293.36 241.7,293.2 242.56,293.09 243.4,292.99 244.24,292.83 245.1,292.6 245.99,292.27 246.91,291.88 247.82,291.45 248.71,291 249.55,290.54 250.3,290.1 250.96,289.68 251.56,289.27 252.09,288.86 252.59,288.44 253.05,287.99 253.5,287.5 253.94,286.93 254.36,286.27 254.75,285.59 255.1,284.94 255.38,284.39 255.6,284" fill="none" stroke="#ff1c14" stroke-width="2.0" stroke-linejoin="round" stroke-linecap="round" />
<polyline points="40.1,335.1 40.82,335.34 41.79,335.66 42.94,336.04 44.23,336.49 45.57,337.01 46.9,337.6 48.26,338.25 49.71,338.97 51.22,339.76 52.76,340.62 54.29,341.56 55.8,342.6 57.28,343.74 58.77,344.98 60.25,346.3 61.73,347.69 63.22,349.13 64.7,350.6 66.18,352.14 67.67,353.77 69.15,355.44 70.63,357.13 72.12,358.8 73.6,360.4 75.1,361.99 76.63,363.6 78.16,365.18 79.67,366.69 81.12,368.08 82.5,369.3 83.81,370.35 85.06,371.26 86.27,372.05 87.43,372.73 88.54,373.31 89.6,373.8 90.6,374.19 91.53,374.47 92.41,374.64 93.27,374.73 94.13,374.75 95,374.7 95.85,374.64 96.64,374.56 97.43,374.41 98.27,374.13 99.21,373.64 100.3,372.9 101.57,371.87 103,370.59 104.52,369.12 106.1,367.5 107.67,365.77 109.2,364 110.68,362.1 112.17,360.03 113.65,357.86 115.13,355.67 116.62,353.52 118.1,351.5 119.58,349.55 121.06,347.61 122.54,345.72 124.03,343.93 125.51,342.27 127,340.8 128.5,339.52 130,338.39 131.5,337.39 133,336.53 134.5,335.77 136,335.1 137.53,334.55 139.11,334.14 140.69,333.83 142.22,333.61 143.64,333.44 144.9,333.3 145.95,333.19 146.81,333.12 147.57,333.11 148.3,333.16 149.08,333.29 150,333.5 151.1,333.83 152.32,334.28 153.6,334.8 154.86,335.36 156.01,335.9 157,336.4 157.79,336.84 158.43,337.26 158.97,337.66 159.46,338.08 159.96,338.52 160.5,339 161.11,339.59 161.74,340.29 162.38,341.01 162.98,341.67 163.53,342.2 164,342.5 164.36,342.52 164.63,342.32 164.84,341.98 165.04,341.59 165.24,341.23 165.5,341 165.73,340.91 165.88,340.88 166.05,340.89 166.32,340.91 166.77,340.89 167.5,340.8 168.56,340.68 169.9,340.58 171.43,340.44 173.05,340.22 174.67,339.89 176.2,339.4 177.65,338.7 179.1,337.82 180.55,336.82 182,335.77 183.45,334.74 184.9,333.8 186.41,332.89 187.99,331.96 189.58,331.04 191.09,330.2 192.45,329.47 193.6,328.9 194.44,328.51 195.02,328.27 195.46,328.14 195.87,328.11 196.37,328.13 197.1,328.2 198.07,328.34 199.21,328.59 200.44,328.91 201.7,329.24 202.94,329.55 204.1,329.8 205.16,329.96 206.17,330.07 207.15,330.16 208.13,330.25 209.14,330.39 210.2,330.6 211.34,330.9 212.56,331.26 213.81,331.66 215.03,332.08 216.17,332.5 217.2,332.9 218.05,333.3 218.77,333.73 219.41,334.15 220.04,334.55 220.75,334.91 221.6,335.2 222.6,335.43 223.71,335.63 224.89,335.77 226.1,335.87 227.32,335.92 228.5,335.9 229.66,335.82 230.83,335.69 231.99,335.51 233.16,335.26 234.33,334.96 235.5,334.6 236.68,334.19 237.87,333.73 239.06,333.21 240.23,332.62 241.39,331.95 242.5,331.2 243.59,330.34 244.66,329.37 245.71,328.32 246.73,327.22 247.69,326.11 248.6,325 249.45,323.86 250.26,322.66 251.02,321.44 251.73,320.24 252.39,319.11 253,318.1 253.57,317.17 254.1,316.29 254.57,315.47 254.99,314.75 255.34,314.15 255.6,313.7" fill="none" stroke="#1808f2" stroke-width="2.0" stroke-linejoin="round" stroke-linecap="round" />
<line x1="261.4" y1="263.2" x2="276.6" y2="263.2" stroke="#ff1c14" stroke-width="2.0" />
<line x1="261.4" y1="282.4" x2="276.6" y2="282.4" stroke="#1808f2" stroke-width="2.0" />
<text x="285.5" y="267.1" font-size="11.4" font-weight="normal" text-anchor="start" fill="#000" >Reb A</text>
<text x="285.5" y="286.6" font-size="11.4" font-weight="normal" text-anchor="start" fill="#000" >Reb Aα</text>
<text x="16.8" y="324.8" font-size="12.4" font-weight="bold" text-anchor="middle" fill="#000" transform="rotate(-90 16.8 324.8)" >Heat flow (W/g)</text>
<text x="148.2" y="431.8" font-size="12.2" font-weight="bold" text-anchor="middle" fill="#000" >Temperature (°C)</text>
<rect x="383.8" y="253.75" width="215.7" height="143.55" fill="none" stroke="#000" stroke-width="1.55"/>
<line x1="377.8" y1="397.3" x2="383.8" y2="397.3" stroke="#000" stroke-width="1.5" />
<text x="376.3" y="400.9" font-size="10.5" font-weight="bold" text-anchor="end" fill="#000" >0</text>
<line x1="377.8" y1="371.2" x2="383.8" y2="371.2" stroke="#000" stroke-width="1.5" />
<text x="376.3" y="374.8" font-size="10.5" font-weight="bold" text-anchor="end" fill="#000" >20</text>
<line x1="377.8" y1="345.1" x2="383.8" y2="345.1" stroke="#000" stroke-width="1.5" />
<text x="376.3" y="348.7" font-size="10.5" font-weight="bold" text-anchor="end" fill="#000" >40</text>
<line x1="377.8" y1="319" x2="383.8" y2="319" stroke="#000" stroke-width="1.5" />
<text x="376.3" y="322.6" font-size="10.5" font-weight="bold" text-anchor="end" fill="#000" >60</text>
<line x1="377.8" y1="292.9" x2="383.8" y2="292.9" stroke="#000" stroke-width="1.5" />
<text x="376.3" y="296.5" font-size="10.5" font-weight="bold" text-anchor="end" fill="#000" >80</text>
<line x1="377.8" y1="266.8" x2="383.8" y2="266.8" stroke="#000" stroke-width="1.5" />
<text x="376.3" y="270.4" font-size="10.5" font-weight="bold" text-anchor="end" fill="#000" >100</text>
<line x1="410.29" y1="397.3" x2="410.29" y2="403.1" stroke="#000" stroke-width="1.5" />
<text x="410.29" y="414.7" font-size="10.5" font-weight="bold" text-anchor="middle" fill="#000" >100</text>
<line x1="448.13" y1="397.3" x2="448.13" y2="403.1" stroke="#000" stroke-width="1.5" />
<text x="448.13" y="414.7" font-size="10.5" font-weight="bold" text-anchor="middle" fill="#000" >200</text>
<line x1="485.97" y1="397.3" x2="485.97" y2="403.1" stroke="#000" stroke-width="1.5" />
<text x="485.97" y="414.7" font-size="10.5" font-weight="bold" text-anchor="middle" fill="#000" >300</text>
<line x1="523.82" y1="397.3" x2="523.82" y2="403.1" stroke="#000" stroke-width="1.5" />
<text x="523.82" y="414.7" font-size="10.5" font-weight="bold" text-anchor="middle" fill="#000" >400</text>
<line x1="561.66" y1="397.3" x2="561.66" y2="403.1" stroke="#000" stroke-width="1.5" />
<text x="561.66" y="414.7" font-size="10.5" font-weight="bold" text-anchor="middle" fill="#000" >500</text>
<line x1="599.5" y1="397.3" x2="599.5" y2="403.1" stroke="#000" stroke-width="1.5" />
<text x="599.5" y="414.7" font-size="10.5" font-weight="bold" text-anchor="middle" fill="#000" >600</text>
<polyline points="383.5,266.6 384.08,266.78 384.88,267.03 385.83,267.32 386.84,267.66 387.86,268.02 388.8,268.4 389.67,268.8 390.54,269.24 391.4,269.71 392.26,270.2 393.13,270.7 394,271.2 394.86,271.73 395.7,272.29 396.54,272.86 397.4,273.42 398.32,273.94 399.3,274.4 400.35,274.79 401.44,275.15 402.59,275.46 403.78,275.74 405.02,275.99 406.3,276.2 407.55,276.37 408.74,276.5 409.99,276.6 411.38,276.67 413.02,276.74 415,276.8 417.42,276.86 420.21,276.9 423.25,276.92 426.41,276.95 429.57,276.97 432.6,277 435.58,277.02 438.64,277.01 441.69,277.01 444.66,277.02 447.49,277.08 450.1,277.2 452.48,277.39 454.69,277.63 456.74,277.92 458.68,278.23 460.52,278.56 462.3,278.9 463.98,279.24 465.55,279.6 467.02,279.97 468.43,280.36 469.78,280.77 471.1,281.2 472.39,281.65 473.63,282.13 474.82,282.62 475.96,283.14 477.05,283.66 478.1,284.2 479.09,284.7 480.03,285.17 480.92,285.65 481.77,286.2 482.59,286.86 483.4,287.7 484.18,288.7 484.94,289.81 485.66,291.05 486.36,292.41 487.04,293.89 487.7,295.5 488.34,297.27 488.96,299.2 489.55,301.26 490.12,303.41 490.67,305.6 491.2,307.8 491.7,310.01 492.16,312.27 492.61,314.58 493.04,316.94 493.47,319.34 493.9,321.8 494.34,324.38 494.77,327.1 495.21,329.86 495.64,332.59 496.07,335.2 496.5,337.6 496.95,339.84 497.41,341.99 497.88,344.01 498.32,345.88 498.74,347.56 499.1,349 499.36,350.12 499.51,350.92 499.63,351.53 499.79,352.07 500.05,352.65 500.5,353.4 501.14,354.34 501.91,355.37 502.8,356.45 503.76,357.53 504.77,358.56 505.8,359.5 506.83,360.32 507.88,361.06 508.97,361.76 510.14,362.44 511.41,363.14 512.8,363.9 514.35,364.73 516.04,365.6 517.83,366.5 519.67,367.4 521.51,368.27 523.3,369.1 525.03,369.88 526.73,370.63 528.44,371.35 530.17,372.06 531.95,372.78 533.8,373.5 535.73,374.26 537.7,375.05 539.73,375.84 541.81,376.6 543.93,377.3 546.1,377.9 548.29,378.4 550.51,378.83 552.77,379.19 555.11,379.5 557.54,379.77 560.1,380 562.77,380.18 565.53,380.29 568.39,380.36 571.35,380.4 574.42,380.44 577.6,380.5 581.19,380.58 585.24,380.66 589.39,380.73 593.31,380.8 596.63,380.86 599,380.9" fill="none" stroke="#1808f2" stroke-width="2.0" stroke-linejoin="round" stroke-linecap="round" />
<polyline points="383.5,266.6 384.08,266.79 384.88,267.04 385.83,267.34 386.84,267.67 387.86,268.03 388.8,268.4 389.67,268.78 390.54,269.19 391.4,269.62 392.26,270.07 393.13,270.53 394,271 394.86,271.49 395.7,272.01 396.54,272.54 397.4,273.07 398.32,273.56 399.3,274 400.35,274.39 401.44,274.76 402.59,275.09 403.78,275.4 405.02,275.67 406.3,275.9 407.55,276.09 408.74,276.24 409.99,276.36 411.38,276.45 413.02,276.53 415,276.6 417.42,276.66 420.21,276.71 423.25,276.74 426.41,276.77 429.57,276.78 432.6,276.8 435.6,276.81 438.7,276.8 441.79,276.79 444.79,276.78 447.59,276.78 450.1,276.8 452.3,276.83 454.25,276.87 456.01,276.93 457.62,276.99 459.13,277.08 460.6,277.2 461.99,277.34 463.26,277.5 464.43,277.68 465.52,277.89 466.57,278.13 467.6,278.4 468.59,278.7 469.53,279.01 470.42,279.36 471.27,279.74 472.09,280.19 472.9,280.7 473.67,281.25 474.4,281.82 475.11,282.44 475.8,283.16 476.49,284 477.2,285 477.94,286.21 478.69,287.6 479.45,289.12 480.2,290.7 480.92,292.28 481.6,293.8 482.25,295.25 482.87,296.67 483.46,298.09 484.03,299.54 484.58,301.03 485.1,302.6 485.58,304.21 486.03,305.84 486.45,307.53 486.86,309.28 487.27,311.13 487.7,313.1 488.15,315.23 488.61,317.51 489.07,319.88 489.53,322.3 489.98,324.73 490.4,327.1 490.79,329.41 491.15,331.7 491.5,333.99 491.85,336.3 492.21,338.66 492.6,341.1 493.01,343.71 493.43,346.5 493.87,349.33 494.32,352.09 494.8,354.66 495.3,356.9 495.82,358.82 496.34,360.52 496.89,362.02 497.48,363.35 498.11,364.53 498.8,365.6 499.53,366.5 500.27,367.2 501.07,367.76 501.94,368.23 502.91,368.66 504,369.1 505.24,369.51 506.6,369.85 508.07,370.15 509.61,370.45 511.19,370.79 512.8,371.2 514.45,371.7 516.17,372.24 517.94,372.82 519.74,373.44 521.53,374.07 523.3,374.7 525.03,375.36 526.73,376.07 528.44,376.79 530.17,377.5 531.95,378.18 533.8,378.8 535.73,379.37 537.7,379.9 539.73,380.39 541.81,380.86 543.93,381.29 546.1,381.7 548.29,382.08 550.51,382.42 552.77,382.74 555.11,383.02 557.54,383.28 560.1,383.5 562.77,383.68 565.53,383.83 568.39,383.94 571.35,384.04 574.42,384.12 577.6,384.2 581.19,384.28 585.24,384.34 589.39,384.39 593.31,384.44 596.63,384.47 599,384.5" fill="none" stroke="#ff1c14" stroke-width="2.0" stroke-linejoin="round" stroke-linecap="round" />
<line x1="604.9" y1="263.4" x2="620" y2="263.4" stroke="#ff1c14" stroke-width="2.0" />
<line x1="604.9" y1="282.7" x2="620" y2="282.7" stroke="#1808f2" stroke-width="2.0" />
<text x="628.9" y="267.6" font-size="11.4" font-weight="normal" text-anchor="start" fill="#000" >Reb A</text>
<text x="628.9" y="286.6" font-size="11.4" font-weight="normal" text-anchor="start" fill="#000" >Reb Aα</text>
<text x="351.8" y="325.15" font-size="11.4" font-weight="bold" text-anchor="middle" textLength="86.5" lengthAdjust="spacing" transform="rotate(-90 351.8 325.15)">Weight&#160; loss (%)</text>
<text x="491.6" y="432" font-size="11.1" font-weight="bold" text-anchor="middle" fill="#000" >Temperature (°C)</text>
<rect x="40" y="469.45" width="215.7" height="143.35" fill="none" stroke="#000" stroke-width="1.55"/>
<line x1="33.8" y1="612.8" x2="40" y2="612.8" stroke="#000" stroke-width="1.5" />
<text x="32.4" y="616.3" font-size="10" font-weight="bold" text-anchor="end" fill="#000" >0</text>
<line x1="33.8" y1="588.91" x2="40" y2="588.91" stroke="#000" stroke-width="1.5" />
<text x="32.4" y="592.41" font-size="10" font-weight="bold" text-anchor="end" fill="#000" >20</text>
<line x1="33.8" y1="565.02" x2="40" y2="565.02" stroke="#000" stroke-width="1.5" />
<text x="32.4" y="568.52" font-size="10" font-weight="bold" text-anchor="end" fill="#000" >40</text>
<line x1="33.8" y1="541.12" x2="40" y2="541.12" stroke="#000" stroke-width="1.5" />
<text x="32.4" y="544.62" font-size="10" font-weight="bold" text-anchor="end" fill="#000" >60</text>
<line x1="33.8" y1="517.23" x2="40" y2="517.23" stroke="#000" stroke-width="1.5" />
<text x="32.4" y="520.73" font-size="10" font-weight="bold" text-anchor="end" fill="#000" >80</text>
<line x1="33.8" y1="493.34" x2="40" y2="493.34" stroke="#000" stroke-width="1.5" />
<text x="32.4" y="496.84" font-size="10" font-weight="bold" text-anchor="end" fill="#000" >100</text>
<line x1="33.8" y1="469.45" x2="40" y2="469.45" stroke="#000" stroke-width="1.5" />
<text x="32.4" y="472.95" font-size="10" font-weight="bold" text-anchor="end" fill="#000" >120</text>
<line x1="40" y1="612.8" x2="40" y2="618.6" stroke="#000" stroke-width="1.5" />
<text x="40" y="630" font-size="9.8" font-weight="bold" text-anchor="middle" fill="#000" >0</text>
<line x1="79.22" y1="612.8" x2="79.22" y2="618.6" stroke="#000" stroke-width="1.5" />
<text x="79.22" y="630" font-size="9.8" font-weight="bold" text-anchor="middle" fill="#000" >2</text>
<line x1="118.44" y1="612.8" x2="118.44" y2="618.6" stroke="#000" stroke-width="1.5" />
<text x="118.44" y="630" font-size="9.8" font-weight="bold" text-anchor="middle" fill="#000" >4</text>
<line x1="157.66" y1="612.8" x2="157.66" y2="618.6" stroke="#000" stroke-width="1.5" />
<text x="157.66" y="630" font-size="9.8" font-weight="bold" text-anchor="middle" fill="#000" >6</text>
<line x1="196.88" y1="612.8" x2="196.88" y2="618.6" stroke="#000" stroke-width="1.5" />
<text x="196.88" y="630" font-size="9.8" font-weight="bold" text-anchor="middle" fill="#000" >8</text>
<line x1="236.1" y1="612.8" x2="236.1" y2="618.6" stroke="#000" stroke-width="1.5" />
<text x="236.1" y="630" font-size="9.8" font-weight="bold" text-anchor="middle" fill="#000" >10</text>
<polyline points="67.45,537.54 79.22,500.51 98.83,493.34 118.44,493.34 157.66,493.34 196.88,493.34 236.1,510.42" fill="none" stroke="#1808f2" stroke-width="1.5" stroke-linejoin="round" stroke-linecap="round" />
<polygon points="67.45,534.35 70.65,540.15 64.25,540.15" fill="#1808f2"/>
<polygon points="79.22,497.32 82.42,503.12 76.02,503.12" fill="#1808f2"/>
<polygon points="98.83,490.15 102.03,495.95 95.63,495.95" fill="#1808f2"/>
<polygon points="118.44,490.15 121.64,495.95 115.24,495.95" fill="#1808f2"/>
<polygon points="157.66,490.15 160.86,495.95 154.46,495.95" fill="#1808f2"/>
<polygon points="196.88,490.15 200.08,495.95 193.68,495.95" fill="#1808f2"/>
<polygon points="236.1,507.23 239.3,513.03 232.9,513.03" fill="#1808f2"/>
<line x1="67.45" y1="530.97" x2="67.45" y2="543.51" stroke="#1808f2" stroke-width="1.3" />
<line x1="64.25" y1="530.97" x2="70.65" y2="530.97" stroke="#1808f2" stroke-width="1.3" />
<line x1="64.25" y1="543.51" x2="70.65" y2="543.51" stroke="#1808f2" stroke-width="1.3" />
<polyline points="67.45,582.94 79.22,514.84 98.83,493.34 118.44,493.34 157.66,493.34 196.88,493.34 236.1,511.26" fill="none" stroke="#ff1c14" stroke-width="1.5" stroke-linejoin="round" stroke-linecap="round" />
<circle cx="67.45" cy="582.94" r="3.2" fill="#ff1c14" stroke="#ff1c14" stroke-width="0"/>
<circle cx="79.22" cy="514.84" r="3.2" fill="#ff1c14" stroke="#ff1c14" stroke-width="0"/>
<circle cx="98.83" cy="493.34" r="3.2" fill="#ff1c14" stroke="#ff1c14" stroke-width="0"/>
<circle cx="118.44" cy="493.34" r="3.2" fill="#ff1c14" stroke="#ff1c14" stroke-width="0"/>
<circle cx="157.66" cy="493.34" r="3.2" fill="#ff1c14" stroke="#ff1c14" stroke-width="0"/>
<circle cx="196.88" cy="493.34" r="3.2" fill="#ff1c14" stroke="#ff1c14" stroke-width="0"/>
<circle cx="236.1" cy="511.26" r="3.2" fill="#ff1c14" stroke="#ff1c14" stroke-width="0"/>
<line x1="67.45" y1="575.77" x2="67.45" y2="590.1" stroke="#ff1c14" stroke-width="1.3" />
<line x1="64.25" y1="575.77" x2="70.65" y2="575.77" stroke="#ff1c14" stroke-width="1.3" />
<line x1="64.25" y1="590.1" x2="70.65" y2="590.1" stroke="#ff1c14" stroke-width="1.3" />
<line x1="236.1" y1="508.87" x2="236.1" y2="513.05" stroke="#ff1c14" stroke-width="1.6" />
<line x1="233.3" y1="508.87" x2="238.9" y2="508.87" stroke="#ff1c14" stroke-width="1.6" />
<line x1="233.3" y1="513.05" x2="238.9" y2="513.05" stroke="#ff1c14" stroke-width="1.6" />
<line x1="261.4" y1="479.3" x2="276.3" y2="479.3" stroke="#ff1c14" stroke-width="1.5" />
<circle cx="268.8" cy="479.3" r="3.2" fill="#ff1c14" stroke="#ff1c14" stroke-width="0"/>
<line x1="261.4" y1="499.3" x2="276.3" y2="499.3" stroke="#1808f2" stroke-width="1.5" />
<polygon points="268.8,496.11 272,501.91 265.6,501.91" fill="#1808f2"/>
<text x="285.5" y="483" font-size="11.4" font-weight="normal" text-anchor="start" fill="#000" >Reb A</text>
<text x="285.5" y="503.4" font-size="11.4" font-weight="normal" text-anchor="start" fill="#000" >Reb Aα</text>
<text x="12.2" y="540" font-size="11.5" font-weight="bold" text-anchor="middle" textLength="118" lengthAdjust="spacing" transform="rotate(-90 12.2 540)">Relative stability&#160; (%)</text>
<text x="147.9" y="647.2" font-size="12" font-weight="bold" text-anchor="middle" fill="#000" >pH</text>
<rect x="384.1" y="469.25" width="213.9" height="143.65" fill="none" stroke="#000" stroke-width="1.55"/>
<line x1="377.9" y1="612.9" x2="384.1" y2="612.9" stroke="#000" stroke-width="1.5" />
<text x="377.1" y="616.4" font-size="10.1" font-weight="bold" text-anchor="end" fill="#000" >0</text>
<line x1="377.9" y1="588.96" x2="384.1" y2="588.96" stroke="#000" stroke-width="1.5" />
<text x="377.1" y="592.46" font-size="10.1" font-weight="bold" text-anchor="end" fill="#000" >20</text>
<line x1="377.9" y1="565.02" x2="384.1" y2="565.02" stroke="#000" stroke-width="1.5" />
<text x="377.1" y="568.52" font-size="10.1" font-weight="bold" text-anchor="end" fill="#000" >40</text>
<line x1="377.9" y1="541.08" x2="384.1" y2="541.08" stroke="#000" stroke-width="1.5" />
<text x="377.1" y="544.58" font-size="10.1" font-weight="bold" text-anchor="end" fill="#000" >60</text>
<line x1="377.9" y1="517.13" x2="384.1" y2="517.13" stroke="#000" stroke-width="1.5" />
<text x="377.1" y="520.63" font-size="10.1" font-weight="bold" text-anchor="end" fill="#000" >80</text>
<line x1="377.9" y1="493.19" x2="384.1" y2="493.19" stroke="#000" stroke-width="1.5" />
<text x="377.1" y="496.69" font-size="10.1" font-weight="bold" text-anchor="end" fill="#000" >100</text>
<line x1="377.9" y1="469.25" x2="384.1" y2="469.25" stroke="#000" stroke-width="1.5" />
<text x="377.1" y="472.75" font-size="10.1" font-weight="bold" text-anchor="end" fill="#000" >120</text>
<line x1="400.9" y1="612.9" x2="400.9" y2="618.7" stroke="#000" stroke-width="1.5" />
<text x="400.9" y="630.8" font-size="10.4" font-weight="bold" text-anchor="middle" fill="#000" >0</text>
<line x1="429.07" y1="612.9" x2="429.07" y2="618.7" stroke="#000" stroke-width="1.5" />
<text x="429.07" y="630.8" font-size="10.4" font-weight="bold" text-anchor="middle" fill="#000" >5</text>
<line x1="457.23" y1="612.9" x2="457.23" y2="618.7" stroke="#000" stroke-width="1.5" />
<text x="457.23" y="630.8" font-size="10.4" font-weight="bold" text-anchor="middle" fill="#000" >10</text>
<line x1="485.4" y1="612.9" x2="485.4" y2="618.7" stroke="#000" stroke-width="1.5" />
<text x="485.4" y="630.8" font-size="10.4" font-weight="bold" text-anchor="middle" fill="#000" >15</text>
<line x1="513.57" y1="612.9" x2="513.57" y2="618.7" stroke="#000" stroke-width="1.5" />
<text x="513.57" y="630.8" font-size="10.4" font-weight="bold" text-anchor="middle" fill="#000" >20</text>
<line x1="541.73" y1="612.9" x2="541.73" y2="618.7" stroke="#000" stroke-width="1.5" />
<text x="541.73" y="630.8" font-size="10.4" font-weight="bold" text-anchor="middle" fill="#000" >25</text>
<line x1="569.9" y1="612.9" x2="569.9" y2="618.7" stroke="#000" stroke-width="1.5" />
<text x="569.9" y="630.8" font-size="10.4" font-weight="bold" text-anchor="middle" fill="#000" >30</text>
<polygon points="400.9,490.33 403.8,495.53 398,495.53" fill="#fff" stroke="#1808f2" stroke-width="1.2" stroke-linejoin="miter"/>
<polygon points="429.07,490.93 431.97,496.13 426.17,496.13" fill="#fff" stroke="#1808f2" stroke-width="1.2" stroke-linejoin="miter"/>
<polygon points="485.4,492.25 488.3,497.45 482.5,497.45" fill="#fff" stroke="#1808f2" stroke-width="1.2" stroke-linejoin="miter"/>
<polygon points="569.9,496.08 572.8,501.28 567,501.28" fill="#fff" stroke="#1808f2" stroke-width="1.2" stroke-linejoin="miter"/>
<polyline points="397.5,494.03 429.07,494.39 485.4,495.59 569.9,501.57" fill="none" stroke="#1808f2" stroke-width="1.5" stroke-linejoin="round" stroke-linecap="round" />
<polygon points="400.9,490.62 404.2,496.82 397.6,496.82" fill="#1808f2"/>
<polygon points="429.07,490.98 432.37,497.18 425.77,497.18" fill="#1808f2"/>
<polygon points="485.4,492.18 488.7,498.38 482.1,498.38" fill="#1808f2"/>
<polygon points="569.9,498.16 573.2,504.36 566.6,504.36" fill="#1808f2"/>
<polyline points="400.9,493.19 429.07,519.53 485.4,562.62 569.9,574.59" fill="none" stroke="#ff1c14" stroke-width="1.5" stroke-linejoin="round" stroke-linecap="round" />
<polyline points="400.9,493.19 429.07,496.78 485.4,509.95 569.9,551.85" fill="none" stroke="#ff1c14" stroke-width="1.5" stroke-linejoin="round" stroke-linecap="round" />
<line x1="429.07" y1="516.3" x2="429.07" y2="522.76" stroke="#ff1c14" stroke-width="1.3" />
<line x1="426.27" y1="516.3" x2="431.87" y2="516.3" stroke="#ff1c14" stroke-width="1.3" />
<line x1="426.27" y1="522.76" x2="431.87" y2="522.76" stroke="#ff1c14" stroke-width="1.3" />
<line x1="485.4" y1="557.24" x2="485.4" y2="567.65" stroke="#ff1c14" stroke-width="1.3" />
<line x1="482.6" y1="557.24" x2="488.2" y2="557.24" stroke="#ff1c14" stroke-width="1.3" />
<line x1="482.6" y1="567.65" x2="488.2" y2="567.65" stroke="#ff1c14" stroke-width="1.3" />
<line x1="569.9" y1="569.21" x2="569.9" y2="580.1" stroke="#ff1c14" stroke-width="1.3" />
<line x1="567.1" y1="569.21" x2="572.7" y2="569.21" stroke="#ff1c14" stroke-width="1.3" />
<line x1="567.1" y1="580.1" x2="572.7" y2="580.1" stroke="#ff1c14" stroke-width="1.3" />
<line x1="569.9" y1="547.3" x2="569.9" y2="556.16" stroke="#ff1c14" stroke-width="1.3" />
<line x1="567.1" y1="547.3" x2="572.7" y2="547.3" stroke="#ff1c14" stroke-width="1.3" />
<line x1="567.1" y1="556.16" x2="572.7" y2="556.16" stroke="#ff1c14" stroke-width="1.3" />
<circle cx="400.9" cy="493.19" r="3.2" fill="#ff1c14" stroke="#ff1c14" stroke-width="0"/>
<circle cx="429.07" cy="519.53" r="3.2" fill="#ff1c14" stroke="#ff1c14" stroke-width="0"/>
<circle cx="485.4" cy="562.62" r="3.2" fill="#ff1c14" stroke="#ff1c14" stroke-width="0"/>
<circle cx="569.9" cy="574.59" r="3.2" fill="#ff1c14" stroke="#ff1c14" stroke-width="0"/>
<circle cx="400.9" cy="493.19" r="2.6" fill="#fff" stroke="#ff1c14" stroke-width="1.4"/>
<circle cx="429.07" cy="496.78" r="2.6" fill="#fff" stroke="#ff1c14" stroke-width="1.4"/>
<circle cx="485.4" cy="509.95" r="2.6" fill="#fff" stroke="#ff1c14" stroke-width="1.4"/>
<circle cx="569.9" cy="551.85" r="2.6" fill="#fff" stroke="#ff1c14" stroke-width="1.4"/>
<line x1="604.2" y1="479.1" x2="619.3" y2="479.1" stroke="#ff1c14" stroke-width="1.5" />
<circle cx="611.8" cy="479.1" r="2.6" fill="#fff" stroke="#ff1c14" stroke-width="1.4"/>
<line x1="604.2" y1="498.5" x2="619.3" y2="498.5" stroke="#ff1c14" stroke-width="1.5" />
<circle cx="611.8" cy="498.5" r="3.2" fill="#ff1c14" stroke="#ff1c14" stroke-width="0"/>
<polygon points="611.8,515.74 614.7,520.94 608.9,520.94" fill="#fff" stroke="#1808f2" stroke-width="1.2" stroke-linejoin="miter"/>
<line x1="604.2" y1="539.2" x2="619.3" y2="539.2" stroke="#1808f2" stroke-width="1.5" />
<polygon points="611.8,536.01 615,541.81 608.6,541.81" fill="#1808f2"/>
<text x="628.3" y="483" font-size="11.8" font-weight="normal" text-anchor="start" fill="#000" >Reb A 1%</text>
<text x="628.3" y="502.2" font-size="11.8" font-weight="normal" text-anchor="start" fill="#000" >Reb A 2%</text>
<text x="628.3" y="522.5" font-size="11.8" font-weight="normal" text-anchor="start" fill="#000" >Reb Aα 1%</text>
<text x="628.3" y="543.4" font-size="11.8" font-weight="normal" text-anchor="start" fill="#000" >Reb Aα 2%</text>
<text x="354.4" y="541.1" font-size="11.8" font-weight="bold" text-anchor="middle" textLength="111" lengthAdjust="spacing" transform="rotate(-90 354.4 541.1)">Storage stability (%)</text>
<text x="491.1" y="647.6" font-size="12" font-weight="bold" text-anchor="middle" fill="#000" >Storage&#160; (day)</text>
<rect x="39.2" y="678.85" width="214.15" height="144.65" fill="none" stroke="#000" stroke-width="1.55"/>
<line x1="34.9" y1="823.5" x2="39.2" y2="823.5" stroke="#000" stroke-width="1.5" />
<text x="33.2" y="827.1" font-size="10.5" font-weight="bold" text-anchor="end" fill="#000" >0</text>
<line x1="34.9" y1="775.28" x2="39.2" y2="775.28" stroke="#000" stroke-width="1.5" />
<text x="33.2" y="778.88" font-size="10.5" font-weight="bold" text-anchor="end" fill="#000" >1</text>
<line x1="34.9" y1="727.07" x2="39.2" y2="727.07" stroke="#000" stroke-width="1.5" />
<text x="33.2" y="730.67" font-size="10.5" font-weight="bold" text-anchor="end" fill="#000" >2</text>
<line x1="34.9" y1="678.85" x2="39.2" y2="678.85" stroke="#000" stroke-width="1.5" />
<text x="33.2" y="682.45" font-size="10.5" font-weight="bold" text-anchor="end" fill="#000" >3</text>
<line x1="39.2" y1="823.5" x2="39.2" y2="828.1" stroke="#000" stroke-width="1.5" />
<text x="39.5" y="839.9" font-size="10.8" font-weight="bold" text-anchor="middle" fill="#000" >0</text>
<line x1="85.03" y1="823.5" x2="85.03" y2="828.1" stroke="#000" stroke-width="1.5" />
<text x="85.33" y="839.9" font-size="10.8" font-weight="bold" text-anchor="middle" fill="#000" >30</text>
<line x1="130.85" y1="823.5" x2="130.85" y2="828.1" stroke="#000" stroke-width="1.5" />
<text x="131.15" y="839.9" font-size="10.8" font-weight="bold" text-anchor="middle" fill="#000" >60</text>
<line x1="176.68" y1="823.5" x2="176.68" y2="828.1" stroke="#000" stroke-width="1.5" />
<text x="176.98" y="839.9" font-size="10.8" font-weight="bold" text-anchor="middle" fill="#000" >90</text>
<line x1="222.5" y1="823.5" x2="222.5" y2="828.1" stroke="#000" stroke-width="1.5" />
<text x="222.8" y="839.9" font-size="10.8" font-weight="bold" text-anchor="middle" fill="#000" >120</text>
<polyline points="39.2,823.5 46.84,823.5 62.11,823.5 85.03,823.5 130.85,814.34 222.5,812.89" fill="none" stroke="#000" stroke-width="1.5" stroke-linejoin="round" stroke-linecap="round" />
<circle cx="39.2" cy="823.5" r="3.4" fill="#000" stroke="#000" stroke-width="0"/>
<circle cx="46.84" cy="823.5" r="3.4" fill="#000" stroke="#000" stroke-width="0"/>
<circle cx="62.11" cy="823.5" r="3.4" fill="#000" stroke="#000" stroke-width="0"/>
<circle cx="85.03" cy="823.5" r="3.4" fill="#000" stroke="#000" stroke-width="0"/>
<circle cx="130.85" cy="814.34" r="3.4" fill="#000" stroke="#000" stroke-width="0"/>
<circle cx="222.5" cy="812.89" r="3.4" fill="#000" stroke="#000" stroke-width="0"/>
<polyline points="39.2,823.5 46.84,823.5 62.11,823.5 85.03,823.5 130.85,820.12 222.5,819.64" fill="none" stroke="#ff1c14" stroke-width="1.2" stroke-linejoin="round" stroke-linecap="round" />
<rect x="35.6" y="819.9" width="7.2" height="7.2" fill="#ff1c14"/>
<rect x="43.24" y="819.9" width="7.2" height="7.2" fill="#ff1c14"/>
<rect x="58.51" y="819.9" width="7.2" height="7.2" fill="#ff1c14"/>
<rect x="81.43" y="819.9" width="7.2" height="7.2" fill="#ff1c14"/>
<rect x="127.25" y="816.52" width="7.2" height="7.2" fill="#ff1c14"/>
<rect x="218.9" y="816.04" width="7.2" height="7.2" fill="#ff1c14"/>
<polyline points="39.2,823.5 46.84,818.68 62.11,806.62 85.03,798.43 130.85,760.34 222.5,712.12" fill="none" stroke="#1808f2" stroke-width="1.5" stroke-linejoin="round" stroke-linecap="round" />
<polygon points="39.2,819.87 43,826.47 35.4,826.47" fill="#1808f2"/>
<polygon points="46.84,815.05 50.64,821.65 43.04,821.65" fill="#1808f2"/>
<polygon points="62.11,802.99 65.91,809.59 58.31,809.59" fill="#1808f2"/>
<polygon points="85.03,794.8 88.83,801.4 81.23,801.4" fill="#1808f2"/>
<polygon points="130.85,756.71 134.65,763.31 127.05,763.31" fill="#1808f2"/>
<polygon points="222.5,708.49 226.3,715.09 218.7,715.09" fill="#1808f2"/>
<line x1="85.03" y1="794.7" x2="85.03" y2="802.4" stroke="#1808f2" stroke-width="2.2" />
<line x1="81.43" y1="794.7" x2="88.62" y2="794.7" stroke="#1808f2" stroke-width="2.2" />
<line x1="81.43" y1="802.4" x2="88.62" y2="802.4" stroke="#1808f2" stroke-width="2.2" />
<line x1="130.85" y1="748.8" x2="130.85" y2="770.6" stroke="#1808f2" stroke-width="2.2" />
<line x1="127.25" y1="748.8" x2="134.45" y2="748.8" stroke="#1808f2" stroke-width="2.2" />
<line x1="127.25" y1="770.6" x2="134.45" y2="770.6" stroke="#1808f2" stroke-width="2.2" />
<line x1="222.5" y1="689.2" x2="222.5" y2="732.9" stroke="#1808f2" stroke-width="2.2" />
<line x1="218.9" y1="689.2" x2="226.1" y2="689.2" stroke="#1808f2" stroke-width="2.2" />
<line x1="218.9" y1="732.9" x2="226.1" y2="732.9" stroke="#1808f2" stroke-width="2.2" />
<line x1="268.1" y1="688.7" x2="283.2" y2="688.7" stroke="#000" stroke-width="1.5" />
<circle cx="275.6" cy="688.7" r="3.2" fill="#000" stroke="#000" stroke-width="0"/>
<line x1="268.1" y1="705.2" x2="283.2" y2="705.2" stroke="#ff1c14" stroke-width="1.5" />
<rect x="271.85" y="701.45" width="7.5" height="7.5" fill="#ff1c14"/>
<line x1="268.1" y1="722.6" x2="283.2" y2="722.6" stroke="#1808f2" stroke-width="1.5" />
<polygon points="275.6,718.97 279.5,725.57 271.7,725.57" fill="#1808f2"/>
<text x="292" y="692.4" font-size="11.4" font-weight="normal" text-anchor="start" fill="#000" >ST</text>
<text x="292" y="709.2" font-size="11.4" font-weight="normal" text-anchor="start" fill="#000" >Reb A</text>
<text x="292" y="726.8" font-size="11.4" font-weight="normal" text-anchor="start" fill="#000" >Reb Aα</text>
<text x="17.3" y="751.2" font-size="12" font-weight="bold" text-anchor="middle" textLength="179" lengthAdjust="spacing" transform="rotate(-90 17.3 751.2)">Glucose generation rate (mg/mL)</text>
<text x="146.7" y="855.6" font-size="12" font-weight="bold" text-anchor="middle" fill="#000" >Time (min)</text>
<rect x="383.55" y="679.5" width="213" height="140.9" fill="none" stroke="#000" stroke-width="1.55"/>
<line x1="379.15" y1="820.4" x2="383.55" y2="820.4" stroke="#000" stroke-width="1.5" />
<text x="377.75" y="824" font-size="10.4" font-weight="bold" text-anchor="end" fill="#000" >0</text>
<line x1="379.15" y1="788.33" x2="383.55" y2="788.33" stroke="#000" stroke-width="1.5" />
<text x="377.75" y="791.93" font-size="10.4" font-weight="bold" text-anchor="end" fill="#000" >25</text>
<line x1="379.15" y1="756.25" x2="383.55" y2="756.25" stroke="#000" stroke-width="1.5" />
<text x="377.75" y="759.85" font-size="10.4" font-weight="bold" text-anchor="end" fill="#000" >50</text>
<line x1="379.15" y1="724.17" x2="383.55" y2="724.17" stroke="#000" stroke-width="1.5" />
<text x="377.75" y="727.77" font-size="10.4" font-weight="bold" text-anchor="end" fill="#000" >75</text>
<line x1="379.15" y1="692.1" x2="383.55" y2="692.1" stroke="#000" stroke-width="1.5" />
<text x="377.75" y="695.7" font-size="10.4" font-weight="bold" text-anchor="end" fill="#000" >100</text>
<line x1="383.55" y1="820.4" x2="383.55" y2="824.8" stroke="#000" stroke-width="1.5" />
<text x="383.55" y="836.9" font-size="10.8" font-weight="bold" text-anchor="middle" fill="#000" >0</text>
<line x1="434.66" y1="820.4" x2="434.66" y2="824.8" stroke="#000" stroke-width="1.5" />
<text x="434.66" y="836.9" font-size="10.8" font-weight="bold" text-anchor="middle" fill="#000" >60</text>
<line x1="485.77" y1="820.4" x2="485.77" y2="824.8" stroke="#000" stroke-width="1.5" />
<text x="485.77" y="836.9" font-size="10.8" font-weight="bold" text-anchor="middle" fill="#000" >120</text>
<line x1="536.89" y1="820.4" x2="536.89" y2="824.8" stroke="#000" stroke-width="1.5" />
<text x="536.89" y="836.9" font-size="10.8" font-weight="bold" text-anchor="middle" fill="#000" >180</text>
<line x1="588" y1="820.4" x2="588" y2="824.8" stroke="#000" stroke-width="1.5" />
<text x="588" y="836.9" font-size="10.8" font-weight="bold" text-anchor="middle" fill="#000" >240</text>
<line x1="388.11" y1="680.1" x2="388.11" y2="820.4" stroke="#222" stroke-width="1.3" stroke-dasharray="4.5,3"/>
<line x1="486.07" y1="680.1" x2="486.07" y2="820.4" stroke="#222" stroke-width="1.3" stroke-dasharray="4.5,3"/>
<polyline points="383.55,820.4 387.81,820.4 396.33,820.4 409.11,818.22 434.66,817.45 485.77,816.42 588,816.42" fill="none" stroke="#000" stroke-width="1.5" stroke-linejoin="round" stroke-linecap="round" />
<circle cx="383.55" cy="820.4" r="3.3" fill="#000" stroke="#000" stroke-width="0"/>
<circle cx="387.81" cy="820.4" r="3.3" fill="#000" stroke="#000" stroke-width="0"/>
<circle cx="396.33" cy="820.4" r="3.3" fill="#000" stroke="#000" stroke-width="0"/>
<circle cx="409.11" cy="818.22" r="3.3" fill="#000" stroke="#000" stroke-width="0"/>
<circle cx="434.66" cy="817.45" r="3.3" fill="#000" stroke="#000" stroke-width="0"/>
<circle cx="485.77" cy="816.42" r="3.3" fill="#000" stroke="#000" stroke-width="0"/>
<circle cx="588" cy="816.42" r="3.3" fill="#000" stroke="#000" stroke-width="0"/>
<polyline points="383.55,820.4 387.81,820.4 396.33,820.4 409.11,820.4 434.66,819.63 485.77,818.99 588,818.48" fill="none" stroke="#ff1c14" stroke-width="1.5" stroke-linejoin="round" stroke-linecap="round" />
<rect x="379.95" y="816.8" width="7.2" height="7.2" fill="#ff1c14"/>
<rect x="384.21" y="816.8" width="7.2" height="7.2" fill="#ff1c14"/>
<rect x="392.73" y="816.8" width="7.2" height="7.2" fill="#ff1c14"/>
<rect x="405.51" y="816.8" width="7.2" height="7.2" fill="#ff1c14"/>
<rect x="431.06" y="816.03" width="7.2" height="7.2" fill="#ff1c14"/>
<rect x="482.17" y="815.39" width="7.2" height="7.2" fill="#ff1c14"/>
<rect x="584.4" y="814.88" width="7.2" height="7.2" fill="#ff1c14"/>
<polyline points="383.55,820.4 387.81,816.55 396.33,809.37 409.11,806.29 434.66,788.33 485.77,769.08 588,692.1" fill="none" stroke="#1808f2" stroke-width="1.5" stroke-linejoin="round" stroke-linecap="round" />
<polygon points="383.55,816.88 387.15,823.28 379.95,823.28" fill="#1808f2"/>
<polygon points="387.81,813.03 391.41,819.43 384.21,819.43" fill="#1808f2"/>
<polygon points="396.33,805.85 399.93,812.25 392.73,812.25" fill="#1808f2"/>
<polygon points="409.11,802.77 412.71,809.17 405.51,809.17" fill="#1808f2"/>
<polygon points="434.66,784.81 438.26,791.21 431.06,791.21" fill="#1808f2"/>
<polygon points="485.77,765.56 489.38,771.96 482.17,771.96" fill="#1808f2"/>
<polygon points="588,688.58 591.6,694.98 584.4,694.98" fill="#1808f2"/>
<line x1="485.77" y1="764.7" x2="485.77" y2="774.2" stroke="#1808f2" stroke-width="2.0" />
<line x1="482.27" y1="764.7" x2="489.27" y2="764.7" stroke="#1808f2" stroke-width="2.0" />
<line x1="482.27" y1="774.2" x2="489.27" y2="774.2" stroke="#1808f2" stroke-width="2.0" />
<line x1="588" y1="683.8" x2="588" y2="700.7" stroke="#1808f2" stroke-width="2.0" />
<line x1="584.5" y1="683.8" x2="591.5" y2="683.8" stroke="#1808f2" stroke-width="2.0" />
<line x1="584.5" y1="700.7" x2="591.5" y2="700.7" stroke="#1808f2" stroke-width="2.0" />
<line x1="611" y1="688.7" x2="626.5" y2="688.7" stroke="#000" stroke-width="1.5" />
<circle cx="618.9" cy="688.7" r="3.2" fill="#000" stroke="#000" stroke-width="0"/>
<line x1="611" y1="704.8" x2="626.5" y2="704.8" stroke="#ff1c14" stroke-width="1.5" />
<rect x="615.15" y="701.05" width="7.5" height="7.5" fill="#ff1c14"/>
<line x1="611" y1="721.9" x2="626.5" y2="721.9" stroke="#1808f2" stroke-width="1.5" />
<polygon points="618.9,718.27 622.8,724.87 615,724.87" fill="#1808f2"/>
<text x="635.3" y="692.3" font-size="11.4" font-weight="normal" text-anchor="start" fill="#000" >ST</text>
<text x="635.3" y="708.8" font-size="11.4" font-weight="normal" text-anchor="start" fill="#000" >Reb A</text>
<text x="635.3" y="726.2" font-size="11.4" font-weight="normal" text-anchor="start" fill="#000" >Reb Aα</text>
<text x="355" y="749.1" font-size="11.8" font-weight="bold" text-anchor="middle" textLength="110.6" lengthAdjust="spacing" transform="rotate(-90 355 749.1)">Degradation rate (%)</text>
<text x="490.2" y="852" font-size="12" font-weight="bold" text-anchor="middle" fill="#000" >Time (min)</text>
<text x="385" y="673.6" font-size="9.5" font-weight="bold" text-anchor="middle" fill="#000" >Oral</text>
<text x="436.9" y="673.6" font-size="9.5" font-weight="bold" text-anchor="middle" fill="#000" >Gastric</text>
<text x="541.4" y="673.6" font-size="9.5" font-weight="bold" text-anchor="middle" fill="#000" >Intestinal</text>
</svg></body></html>
